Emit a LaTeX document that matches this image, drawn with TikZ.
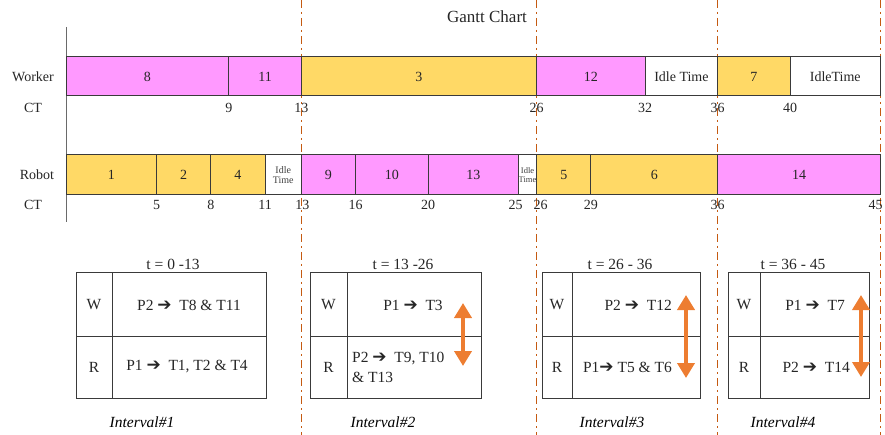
\documentclass[tikz,border=0pt]{standalone}
\usepackage{fontspec}
\setmainfont{Liberation Serif}
\newfontfamily\dingfont{DejaVu Sans}
\usepackage{xcolor}
\usepackage{tikz}
\usetikzlibrary{arrows.meta}
\definecolor{pinkbar}{HTML}{FF99FF}
\definecolor{yelbar}{HTML}{FFD966}
\definecolor{edge}{HTML}{3A3A3A}
\definecolor{axisgray}{HTML}{6A6A6A}
\definecolor{cutline}{HTML}{C55A11}
\definecolor{handorange}{HTML}{ED7D31}
\newcommand{\ra}{{\dingfont\bfseries\fontsize{17}{17}\selectfont ➔}}
\tikzset{
  seg/.style={draw=edge, line width=1pt},
  lbl/.style={font=\fontsize{14}{16}\selectfont, text=black!85, inner sep=0pt},
  boxtxt/.style={font=\fontsize{15.5}{18}\selectfont, text=black!85, inner sep=0pt},
  ct/.style={lbl, anchor=center},
  idle/.style={font=\fontsize{10}{10.5}\selectfont, align=center, inner sep=0pt, text=black!75},
  cut/.style={draw=cutline, line width=1pt, dash pattern=on 8pt off 4pt on 2pt off 4pt},
  cell/.style={draw=edge, line width=1pt},
  handover/.style={draw=handorange, line width=4.5pt,
    {Triangle[width=17pt,length=15pt]}-{Triangle[width=17pt,length=15pt]}},
  tag/.style={font=\itshape\fontsize{15.5}{16}\selectfont, inner sep=0pt}
}

\begin{document}
\begin{tikzpicture}[x=1pt, y=-1pt]
  \useasboundingbox (0,0) rectangle (885,435);

  % interval cuts
  \foreach \t in {13,26,36,45}{
    \draw[cut] ({66+18.1*\t},0) -- ({66+18.1*\t},435);
  }

  \node[lbl, font=\fontsize{17}{19}\selectfont] (title) at (487,17) {Gantt Chart};

  % time axis
  \draw[draw=axisgray, line width=1pt] (66,27) -- (66,222);

  % worker row
  \node[lbl] (wlab) at (33,77) {Worker};
  \node[lbl] (wct) at (33,108) {CT};
  \foreach \a/\b/\c/\l in {0/9/pinkbar/8, 9/13/pinkbar/11, 13/26/yelbar/3,
      26/32/pinkbar/12, 32/36/white/Idle Time, 36/40/yelbar/7, 40/45/white/IdleTime}{
    \draw[seg, fill=\c] ({66+18.1*\a},57) rectangle ({66+18.1*\b},96);
    \node[lbl] (w\a) at ({66+9.05*(\a+\b)},76.5) {\l};
  }
  \foreach \t in {9,13,26,32,36,40}{
    \node[ct] (wt\t) at ({66+18.1*\t},108) {\t};
  }

  % robot row
  \node[lbl] (rlab) at (37,175) {Robot};
  \node[lbl] (rct) at (33,205) {CT};
  \foreach \a/\b/\c/\l in {0/5/yelbar/1, 5/8/yelbar/2, 8/11/yelbar/4, 11/13/white/,
      13/16/pinkbar/9, 16/20/pinkbar/10, 20/25/pinkbar/13, 25/26/white/,
      26/29/yelbar/5, 29/36/yelbar/6, 36/45/pinkbar/14}{
    \draw[seg, fill=\c] ({66+18.1*\a},155) rectangle ({66+18.1*\b},195);
    \node[lbl] (r\a) at ({66+9.05*(\a+\b)},175) {\l};
  }
  \node[idle] (ridle1) at ({66+18.1*12},175) {Idle\\Time};
  \node[idle, font=\fontsize{8.5}{9}\selectfont] (ridle2) at ({66+18.1*25.5},175) {Idle\\Time};
  \foreach \t/\s in {5/0,8/0,11/0,13/1,16/0,20/0,25/-3,26/4,29/0,36/0,45/-5}{
    \node[ct] (rt\t) at ({66+18.1*\t+\s},205) {\t};
  }

  % interval boxes
  \foreach \x/\d/\e/\n/\m/\tt in {76/112/266/1/173/{t = 0 -13}, 310/347/481/2/403/{t = 13 -26},
      542/572/700/3/620/{t = 26 - 36}, 728/760/869/4/793/{t = 36 - 45}}{
    \draw[cell] (\x,273) rectangle (\e,398);
    \draw[cell] (\x,336) -- (\e,336);
    \draw[cell] (\d,273) -- (\d,398);
    \node[boxtxt] (bw\n) at ({(\x+\d)/2},305) {W};
    \node[boxtxt] (br\n) at ({(\x+\d)/2},367) {R};
    \node[boxtxt] (bt\n) at (\m,264) {\tt};
  }

  \node[boxtxt] (tw1) at (189,305) {P2 \ra\ \ T8 \& T11};
  \node[boxtxt] (tr1) at (187,367) {P1 \ra\ \ T1, T2 \& T4};
  \node[boxtxt] (tw2) at (413,305) {P1 \ra\ \ T3};
  \node[boxtxt, anchor=west, align=left, font=\fontsize{15.5}{20.5}\selectfont] (tr2) at (352,367.5) {P2 \ra\ \ T9, T10\\\& T13};
  \node[boxtxt, anchor=east] (tw3) at (672,305) {P2 \ra\ \ T12};
  \node[boxtxt, anchor=east] (tr3) at (672,367) {P1\ra\ T5 \& T6};
  \node[boxtxt, anchor=east] (tw4) at (845,305) {P1 \ra\ \ T7};
  \node[boxtxt, anchor=east] (tr4) at (850,367) {P2 \ra\ \ T14};

  % worker/robot swap arrows
  \coordinate (up2) at (463,303); \coordinate (dn2) at (463,366);
  \coordinate (up3) at (686,295); \coordinate (dn3) at (686,378);
  \coordinate (up4) at (861,295); \coordinate (dn4) at (861,377);
  \foreach \n in {2,3,4}{
    \draw[handover] (up\n) -- (dn\n);
  }

  % interval names
  \node[tag] (int1) at (142,422) {Interval\#1};
  \node[tag] (int2) at (383,422) {Interval\#2};
  \node[tag] (int3) at (612,422) {Interval\#3};
  \node[tag] (int4) at (783,422) {Interval\#4};
\end{tikzpicture}
\end{document}
